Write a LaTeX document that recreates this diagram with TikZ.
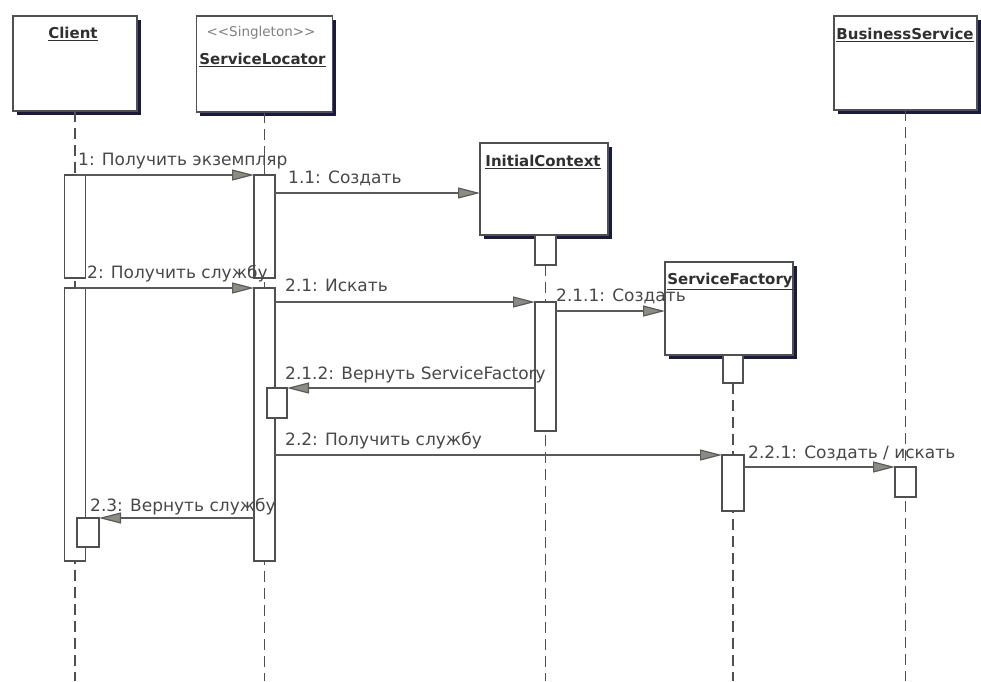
\documentclass[tikz,border=0pt]{standalone}
\usepackage{fontspec}
\setmainfont{DejaVu Sans}
\usetikzlibrary{arrows.meta,shadows}
\definecolor{boxline}{HTML}{505050}
\definecolor{shade}{HTML}{1A1A40}
\definecolor{ink}{HTML}{5A5A5A}
\definecolor{headfill}{HTML}{8C8C84}
\definecolor{labelgray}{HTML}{484848}
\definecolor{titlegray}{HTML}{303030}
\begin{document}
\begin{tikzpicture}[x=1pt, y=-1pt,
  objbox/.style={draw=boxline, line width=1.3pt, fill=white, inner sep=0pt, outer sep=0pt,
    drop shadow={shadow xshift=3.5pt, shadow yshift=-3.5pt, fill=shade, opacity=1}},
  actbar/.style={draw=boxline, line width=1.2pt, fill=white, inner sep=0pt, outer sep=0pt, minimum width=21pt},
  lifeline/.style={draw=boxline, line width=1.2pt, dash pattern=on 11pt off 6pt},
  msg/.style={draw=ink, line width=1.2pt, -{Triangle[length=22pt,width=11pt,fill=headfill]}},
  msglabel/.style={anchor=base west, inner sep=0pt, text=labelgray, font=\fontsize{17}{20}\selectfont},
  title/.style={inner sep=0pt, text=titlegray, font=\bfseries\fontsize{15}{18}\selectfont},
  stereo/.style={inner sep=0pt, text=gray, font=\fontsize{13.5}{16}\selectfont}]

% canvas
\fill[white] (0,0) rectangle (981,681);
\useasboundingbox (0,0) rectangle (981,681);

% object boxes
\node[objbox, minimum width=124pt, minimum height=95pt] (client) at (75,63.5) {};
\node[objbox, minimum width=136pt, minimum height=96pt] (sl) at (264.5,64) {};
\node[objbox, minimum width=128pt, minimum height=92pt] (ic) at (544,189) {};
\node[objbox, minimum width=128pt, minimum height=93pt] (sf) at (729,308.5) {};
\node[objbox, minimum width=143pt, minimum height=94pt] (bs) at (905.5,63) {};

% object names
\node[title] (clientT) at (73,34) {\underline{Client}};
\node[stereo] (slS) at (261,33) {<{}<Singleton>{}>};
\node[title] (slT) at (262.5,60) {\underline{ServiceLocator}};
\node[title] (icT) at (543,162) {\underline{InitialContext}};
\node[title] (sfT) at (730,281) {\underline{ServiceFactory}};
\node[title] (bsT) at (905,35) {\underline{BusinessService}};

% creation boxes under the created objects
\node[actbar, minimum width=21pt, minimum height=30pt] (icfoot) at (545.5,250) {};
\node[actbar, minimum width=20pt, minimum height=28pt] (sffoot) at (733,369) {};

% lifeline ends
\coordinate (clientEnd) at (75,681);
\coordinate (slEnd) at (264.5,681);
\coordinate (icEnd) at (545.5,681);
\coordinate (sfEnd) at (733,681);
\coordinate (bsEnd) at (905.5,681);

% lifelines
\draw[lifeline] (client.south) -- (clientEnd);
\draw[lifeline] (sl.south) -- (slEnd);
\draw[lifeline] (icfoot.south) -- (icEnd);
\draw[lifeline] (sffoot.south) -- (sfEnd);
\draw[lifeline] (bs.south) -- (bsEnd);

% activation bars
\node[actbar, minimum height=103pt] (cbar1) at (75,226.5) {};
\node[actbar, minimum height=273pt] (cbar2) at (75,424.5) {};
\node[actbar, minimum width=22pt, minimum height=29pt] (cbar3) at (88,532.5) {};
\node[actbar, minimum height=103pt] (sbar1) at (264.5,226.5) {};
\node[actbar, minimum height=273pt] (sbar2) at (264.5,424.5) {};
\node[actbar, minimum width=20pt, minimum height=30pt] (sbar3) at (277,403) {};
\node[actbar, minimum height=129pt] (icbar) at (545.5,366.5) {};
\node[actbar, minimum width=22pt, minimum height=56pt] (sfbar) at (733,483) {};
\node[actbar, minimum height=30pt] (bsbar) at (905.5,482) {};

% messages
\coordinate (m11) at ([yshift=-4pt]ic.west);
\coordinate (m211) at ([yshift=-2.5pt]sf.west);
\draw[msg] (cbar1.north) -- (sbar1.north west);
\draw[msg] (sbar1.east |- m11) -- (m11);
\draw[msg] (cbar2.north) -- (sbar2.north west);
\draw[msg] (sbar2.east |- icbar.north west) -- (icbar.north west);
\draw[msg] (icbar.east |- m211) -- (m211);
\draw[msg] (icbar.west |- sbar3.north east) -- (sbar3.north east);
\draw[msg] (sbar2.east |- sfbar.north west) -- (sfbar.north west);
\draw[msg] (sfbar.east |- bsbar.north west) -- (bsbar.north west);
\draw[msg] (sbar2.west |- cbar3.north east) -- (cbar3.north east);

% message labels
\node[msglabel] (l1) at (78,165) {1: Получить экземпляр};
\node[msglabel] (l11) at (288,183) {1.1: Создать};
\node[msglabel] (l2) at (87,278) {2: Получить службу};
\node[msglabel] (l21) at (285,291) {2.1: Искать};
\node[msglabel] (l211) at (556,301) {2.1.1: Создать};
\node[msglabel] (l212) at (285,379) {2.1.2: Вернуть ServiceFactory};
\node[msglabel] (l22) at (285,445) {2.2: Получить службу};
\node[msglabel] (l221) at (748,458) {2.2.1: Создать / искать};
\node[msglabel] (l23) at (90,511) {2.3: Вернуть службу};
\end{tikzpicture}
\end{document}
